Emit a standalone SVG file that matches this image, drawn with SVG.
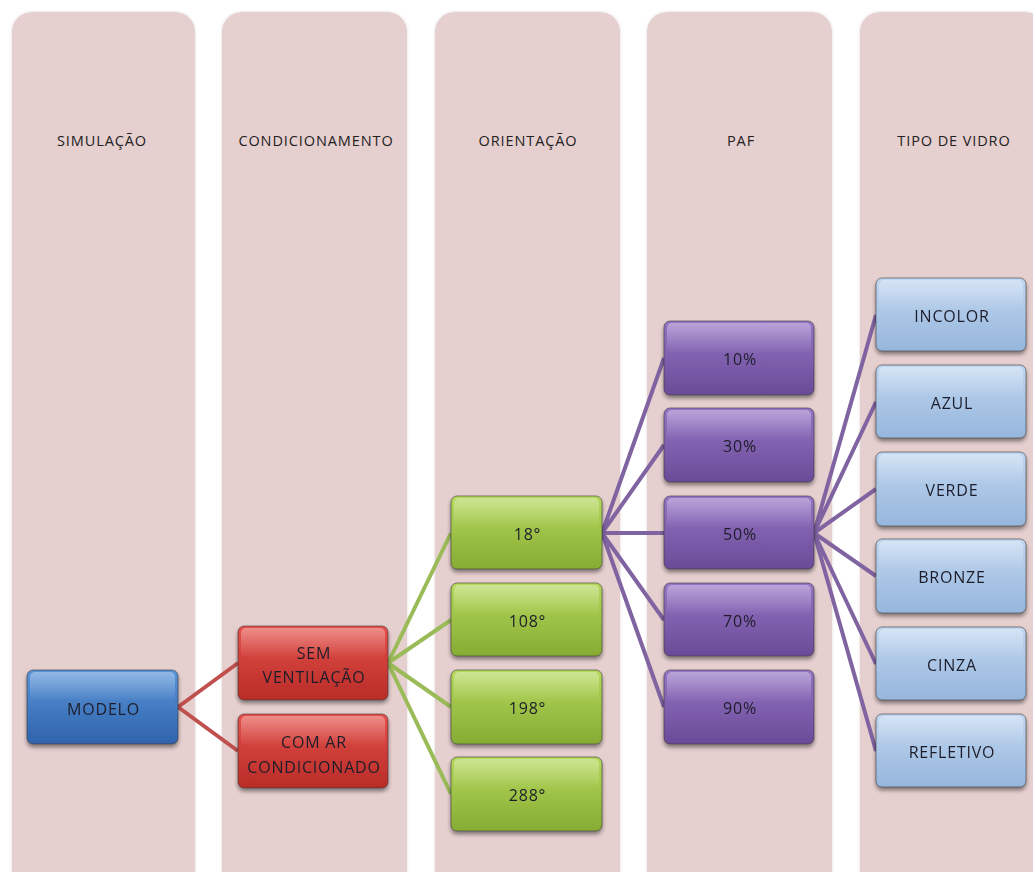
<svg xmlns="http://www.w3.org/2000/svg" width="1033" height="872" viewBox="0 0 1033 872">
<defs>
<linearGradient id="gBlue" x1="0" y1="0" x2="0" y2="1"><stop offset="0" stop-color="#5893d8"/><stop offset="1" stop-color="#2f63ab"/></linearGradient>
<linearGradient id="gRed" x1="0" y1="0" x2="0" y2="1"><stop offset="0" stop-color="#e4504a"/><stop offset="1" stop-color="#b92c27"/></linearGradient>
<linearGradient id="gGreen" x1="0" y1="0" x2="0" y2="1"><stop offset="0" stop-color="#b4d85a"/><stop offset="1" stop-color="#86ac34"/></linearGradient>
<linearGradient id="gPurple" x1="0" y1="0" x2="0" y2="1"><stop offset="0" stop-color="#9474c4"/><stop offset="1" stop-color="#6a4b98"/></linearGradient>
<linearGradient id="gLight" x1="0" y1="0" x2="0" y2="1"><stop offset="0" stop-color="#c0d6f0"/><stop offset="1" stop-color="#96b6dc"/></linearGradient>
<linearGradient id="gloss" x1="0" y1="0" x2="0" y2="1"><stop offset="0" stop-color="#fff" stop-opacity="0.35"/><stop offset="1" stop-color="#fff" stop-opacity="0"/></linearGradient>
<filter id="sh" x="-10%" y="-10%" width="125%" height="135%"><feGaussianBlur in="SourceAlpha" stdDeviation="2"/><feOffset dx="0" dy="3" result="b"/><feComponentTransfer><feFuncA type="linear" slope="0.45"/></feComponentTransfer><feMerge><feMergeNode/><feMergeNode in="SourceGraphic"/></feMerge></filter>
<filter id="colsh" x="-5%" y="-5%" width="110%" height="110%"><feGaussianBlur in="SourceAlpha" stdDeviation="1.5"/><feComponentTransfer><feFuncA type="linear" slope="0.15"/></feComponentTransfer><feMerge><feMergeNode/><feMergeNode in="SourceGraphic"/></feMerge></filter>
</defs>
<style>
.col{fill:#e6cfcf;}
.hdr{font-family:"Open Sans","Liberation Sans",sans-serif;font-size:14.5px;letter-spacing:0.9px;fill:#222;text-anchor:middle;}
.lbl{font-family:"Open Sans","Liberation Sans",sans-serif;font-size:16px;letter-spacing:0.8px;fill:#1e1e2a;text-anchor:middle;}
.box{stroke:#333;stroke-opacity:0.55;stroke-width:1;}
.gl{fill:url(#gloss);}
.cR{stroke:#c0504d;stroke-width:4;fill:none;}
.cG{stroke:#9bbb59;stroke-width:4;fill:none;}
.cP{stroke:#8064a2;stroke-width:4;fill:none;}
</style>
<rect width="1033" height="872" fill="#fff"/>
<g id="columns" filter="url(#colsh)">
<path class="col" d="M12,890 V32 a20,20 0 0 1 20,-20 H175 a20,20 0 0 1 20,20 V890 Z"/>
<path class="col" d="M222,890 V32 a20,20 0 0 1 20,-20 H387 a20,20 0 0 1 20,20 V890 Z"/>
<path class="col" d="M435,890 V32 a20,20 0 0 1 20,-20 H600 a20,20 0 0 1 20,20 V890 Z"/>
<path class="col" d="M647,890 V32 a20,20 0 0 1 20,-20 H812 a20,20 0 0 1 20,20 V890 Z"/>
<path class="col" d="M860,890 V32 a20,20 0 0 1 20,-20 H1025 a20,20 0 0 1 20,20 V890 Z"/>
</g>
<g id="headers">
<text class="hdr" x="102" y="146">SIMULAÇÃO</text>
<text class="hdr" x="316" y="146">CONDICIONAMENTO</text>
<text class="hdr" x="528" y="146">ORIENTAÇÃO</text>
<text class="hdr" x="741" y="146">PAF</text>
<text class="hdr" x="954" y="146">TIPO DE VIDRO</text>
</g>
<g id="connectors">
<path class="cR" d="M178,707 L238,663 M178,707 L238,751"/>
<path class="cG" d="M388,663 L451,533 M388,663 L451,620 M388,663 L451,707 M388,663 L451,794"/>
<path class="cP" d="M602,533 L664,358 M602,533 L664,445 M602,533 L664,533 M602,533 L664,620 M602,533 L664,707"/>
<path class="cP" d="M814,533 L876,315 M814,533 L876,402 M814,533 L876,489 M814,533 L876,576 M814,533 L876,664 M814,533 L876,751"/>
</g>
<g id="modelo" filter="url(#sh)"><rect class="box" x="27" y="670" width="151" height="74" rx="6" fill="url(#gBlue)"/><rect class="gl" x="30" y="672" width="145" height="30" rx="5"/><text class="lbl" x="103.5" y="715">MODELO</text></g>
<g id="sem-ventilacao" filter="url(#sh)"><rect class="box" x="238" y="626" width="150" height="74" rx="6" fill="url(#gRed)"/><rect class="gl" x="241" y="628" width="144" height="30" rx="5"/><text class="lbl" x="314" y="659">SEM</text><text class="lbl" x="314" y="683">VENTILAÇÃO</text></g>
<g id="com-ar" filter="url(#sh)"><rect class="box" x="238" y="714" width="150" height="74" rx="6" fill="url(#gRed)"/><rect class="gl" x="241" y="716" width="144" height="30" rx="5"/><text class="lbl" x="314" y="748">COM AR</text><text class="lbl" x="314" y="773">CONDICIONADO</text></g>
<g id="o18" filter="url(#sh)"><rect class="box" x="451" y="496" width="151" height="73" rx="6" fill="url(#gGreen)"/><rect class="gl" x="454" y="498" width="145" height="30" rx="5"/><text class="lbl" x="527.5" y="540">18°</text></g>
<g id="o108" filter="url(#sh)"><rect class="box" x="451" y="583" width="151" height="73" rx="6" fill="url(#gGreen)"/><rect class="gl" x="454" y="585" width="145" height="30" rx="5"/><text class="lbl" x="527.5" y="627">108°</text></g>
<g id="o198" filter="url(#sh)"><rect class="box" x="451" y="670" width="151" height="74" rx="6" fill="url(#gGreen)"/><rect class="gl" x="454" y="672" width="145" height="30" rx="5"/><text class="lbl" x="527.5" y="714">198°</text></g>
<g id="o288" filter="url(#sh)"><rect class="box" x="451" y="757" width="151" height="74" rx="6" fill="url(#gGreen)"/><rect class="gl" x="454" y="759" width="145" height="30" rx="5"/><text class="lbl" x="527.5" y="801">288°</text></g>
<g id="p10" filter="url(#sh)"><rect class="box" x="664" y="321" width="150" height="74" rx="6" fill="url(#gPurple)"/><rect class="gl" x="667" y="323" width="144" height="30" rx="5"/><text class="lbl" x="740" y="365">10%</text></g>
<g id="p30" filter="url(#sh)"><rect class="box" x="664" y="408" width="150" height="74" rx="6" fill="url(#gPurple)"/><rect class="gl" x="667" y="410" width="144" height="30" rx="5"/><text class="lbl" x="740" y="452">30%</text></g>
<g id="p50" filter="url(#sh)"><rect class="box" x="664" y="496" width="150" height="73" rx="6" fill="url(#gPurple)"/><rect class="gl" x="667" y="498" width="144" height="30" rx="5"/><text class="lbl" x="740" y="540">50%</text></g>
<g id="p70" filter="url(#sh)"><rect class="box" x="664" y="583" width="150" height="73" rx="6" fill="url(#gPurple)"/><rect class="gl" x="667" y="585" width="144" height="30" rx="5"/><text class="lbl" x="740" y="627">70%</text></g>
<g id="p90" filter="url(#sh)"><rect class="box" x="664" y="670" width="150" height="74" rx="6" fill="url(#gPurple)"/><rect class="gl" x="667" y="672" width="144" height="30" rx="5"/><text class="lbl" x="740" y="714">90%</text></g>
<g id="incolor" filter="url(#sh)"><rect class="box" x="876" y="278" width="150" height="73" rx="6" fill="url(#gLight)"/><rect class="gl" x="879" y="280" width="144" height="30" rx="5"/><text class="lbl" x="952" y="322">INCOLOR</text></g>
<g id="azul" filter="url(#sh)"><rect class="box" x="876" y="365" width="150" height="73" rx="6" fill="url(#gLight)"/><rect class="gl" x="879" y="367" width="144" height="30" rx="5"/><text class="lbl" x="952" y="409">AZUL</text></g>
<g id="verde" filter="url(#sh)"><rect class="box" x="876" y="452" width="150" height="74" rx="6" fill="url(#gLight)"/><rect class="gl" x="879" y="454" width="144" height="30" rx="5"/><text class="lbl" x="952" y="496">VERDE</text></g>
<g id="bronze" filter="url(#sh)"><rect class="box" x="876" y="539" width="150" height="74" rx="6" fill="url(#gLight)"/><rect class="gl" x="879" y="541" width="144" height="30" rx="5"/><text class="lbl" x="952" y="583">BRONZE</text></g>
<g id="cinza" filter="url(#sh)"><rect class="box" x="876" y="627" width="150" height="73" rx="6" fill="url(#gLight)"/><rect class="gl" x="879" y="629" width="144" height="30" rx="5"/><text class="lbl" x="952" y="671">CINZA</text></g>
<g id="refletivo" filter="url(#sh)"><rect class="box" x="876" y="714" width="150" height="73" rx="6" fill="url(#gLight)"/><rect class="gl" x="879" y="716" width="144" height="30" rx="5"/><text class="lbl" x="952" y="758">REFLETIVO</text></g>
</svg>
